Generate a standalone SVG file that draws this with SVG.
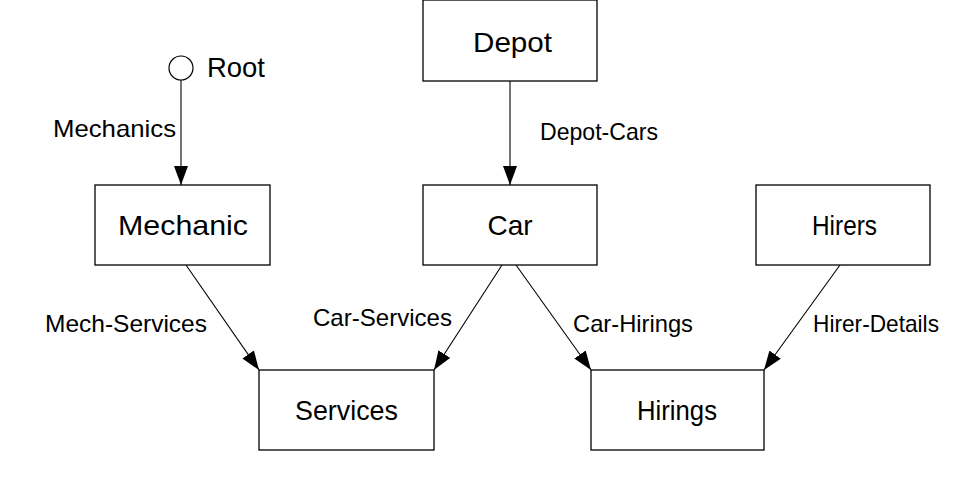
<svg xmlns="http://www.w3.org/2000/svg" width="970" height="482" viewBox="0 0 970 482">
<style>
.box{fill:#fff;stroke:#000;stroke-width:1.3}
.nt{font-family:"Liberation Sans",Arial,sans-serif;font-size:28px;fill:#000}
.lt{font-family:"Liberation Sans",Arial,sans-serif;font-size:24px;fill:#000}
.ln{stroke:#000;stroke-width:1.1;fill:none;marker-end:url(#ah)}
</style>
<defs>
<marker id="ah" markerUnits="userSpaceOnUse" markerWidth="20" markerHeight="14" refX="19" refY="7" orient="auto">
<path d="M0,0 L19,7 L0,14 Z" fill="#000"/>
</marker>
</defs>
<rect width="970" height="482" fill="#fff"/>
<g id="connectors">
<line class="ln" x1="181" y1="80" x2="181" y2="185"/>
<line class="ln" x1="510" y1="81" x2="510" y2="185"/>
<line class="ln" x1="186" y1="265" x2="259" y2="370"/>
<line class="ln" x1="502" y1="265" x2="434" y2="370"/>
<line class="ln" x1="516" y1="265" x2="591" y2="370"/>
<line class="ln" x1="840" y1="265" x2="764" y2="370"/>
<text class="lt" x="53" y="137" textLength="123" lengthAdjust="spacingAndGlyphs">Mechanics</text>
<text class="lt" x="540" y="140" textLength="118" lengthAdjust="spacingAndGlyphs">Depot-Cars</text>
<text class="lt" x="45" y="332" textLength="162" lengthAdjust="spacingAndGlyphs">Mech-Services</text>
<text class="lt" x="313" y="326" textLength="139" lengthAdjust="spacingAndGlyphs">Car-Services</text>
<text class="lt" x="573" y="332" textLength="120" lengthAdjust="spacingAndGlyphs">Car-Hirings</text>
<text class="lt" x="813" y="332" textLength="126" lengthAdjust="spacingAndGlyphs">Hirer-Details</text>
</g>
<g id="root">
<circle cx="181" cy="68" r="12" fill="#fff" stroke="#000" stroke-width="1.2"/>
<text class="nt" x="207" y="77" textLength="58" lengthAdjust="spacingAndGlyphs">Root</text>
</g>
<g id="depot">
<rect class="box" x="423" y="0" width="174" height="81"/>
<text class="nt" x="473" y="52" textLength="79" lengthAdjust="spacingAndGlyphs">Depot</text>
</g>
<g id="mechanic">
<rect class="box" x="95" y="185" width="175" height="80"/>
<text class="nt" x="118" y="235" textLength="130" lengthAdjust="spacingAndGlyphs">Mechanic</text>
</g>
<g id="car">
<rect class="box" x="423" y="185" width="174" height="80"/>
<text class="nt" x="510" y="235" text-anchor="middle">Car</text>
</g>
<g id="hirers">
<rect class="box" x="756" y="185" width="174" height="80"/>
<text class="nt" x="812" y="235" textLength="65" lengthAdjust="spacingAndGlyphs">Hirers</text>
</g>
<g id="services">
<rect class="box" x="259" y="370" width="175" height="80"/>
<text class="nt" x="295" y="420" textLength="103" lengthAdjust="spacingAndGlyphs">Services</text>
</g>
<g id="hirings">
<rect class="box" x="591" y="370" width="173" height="80"/>
<text class="nt" x="637" y="420" textLength="80" lengthAdjust="spacingAndGlyphs">Hirings</text>
</g>
</svg>
